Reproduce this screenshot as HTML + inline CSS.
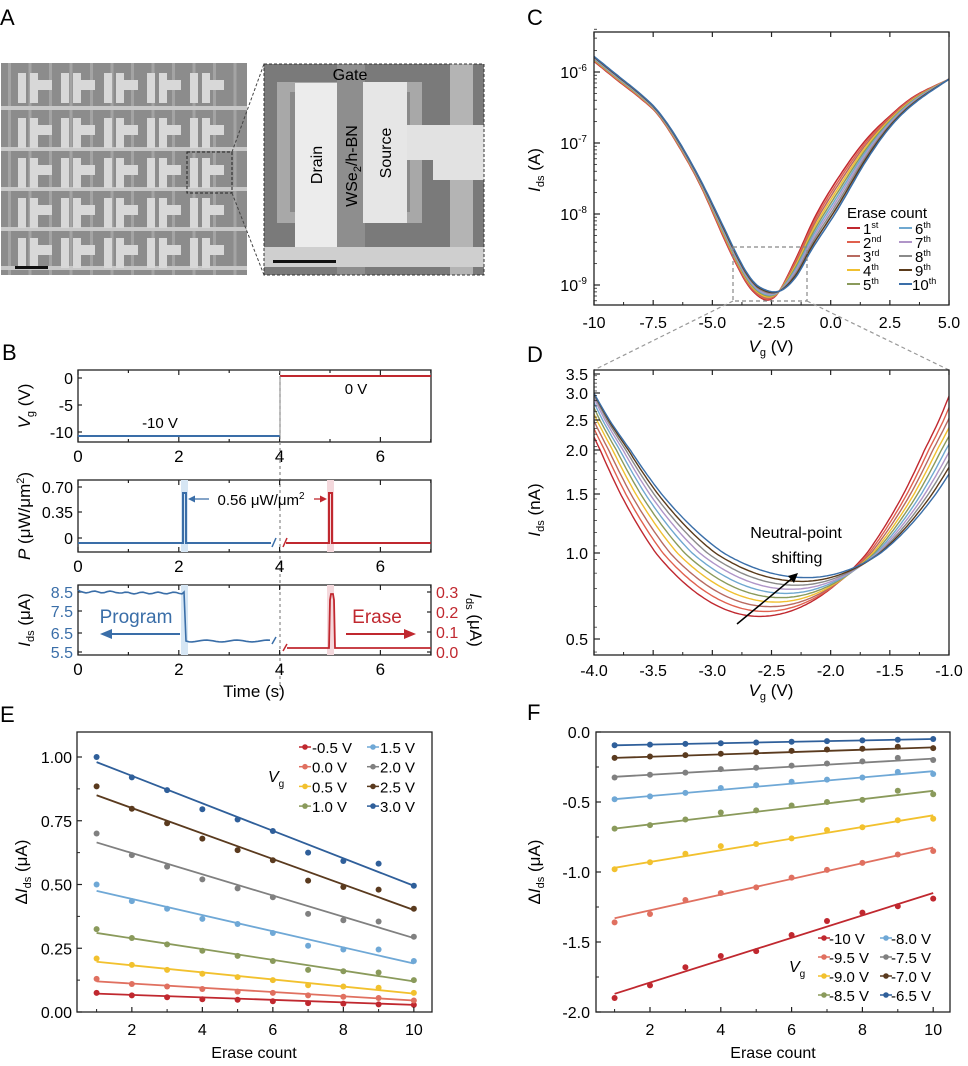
<!DOCTYPE html>
<html><head><meta charset="utf-8">
<style>
html,body{margin:0;padding:0;background:#fff;}
svg{display:block;font-family:"Liberation Sans",Arial,sans-serif;}
</style></head>
<body>
<svg id="s" width="968" height="1066" viewBox="0 0 968 1066" xmlns="http://www.w3.org/2000/svg">
<defs>
<clipPath id="cc"><rect x="594" y="32" width="355" height="273"/></clipPath>
<clipPath id="cd"><rect x="594" y="370" width="355" height="285"/></clipPath>
</defs>
<g id="g"></g>
</svg>
<script>
var G=document.getElementById('g'),out='';
function A(s){out+=s;}
function T(x,y,t,o){o=o||{};A('<text x="'+x+'" y="'+y+'" font-size="'+(o.fs||15)+'" fill="'+(o.c||'#000')+'" text-anchor="'+(o.a||'start')+'"'+(o.tr?' transform="'+o.tr+'"':'')+(o.st?' font-style="italic"':'')+'>'+t+'</text>');}
function L(x1,y1,x2,y2,c,w,d){A('<line x1="'+x1+'" y1="'+y1+'" x2="'+x2+'" y2="'+y2+'" stroke="'+(c||'#000')+'" stroke-width="'+(w||1)+'"'+(d?' stroke-dasharray="'+d+'"':'')+'/>');}
function R(x,y,w,h,f,extra){A('<rect x="'+x+'" y="'+y+'" width="'+w+'" height="'+h+'" fill="'+f+'" '+(extra||'')+'/>');}
function P(pts,c,w,extra){var d='M'+pts.map(function(p){return p[0].toFixed(1)+','+p[1].toFixed(1)}).join('L');A('<path d="'+d+'" fill="none" stroke="'+c+'" stroke-width="'+(w||1.5)+'" '+(extra||'')+'/>');}
function frame(x,y,w,h){R(x,y,w,h,'none','stroke="#222" stroke-width="1.3"');}
T(0,25,'A',{fs:22});T(2,360,'B',{fs:22});T(527,25,'C',{fs:22});T(527,362,'D',{fs:22});T(0,722,'E',{fs:22});T(527,720,'F',{fs:22});

// ===== Panel A =====
R(1,63,246,212,'#8c8c8c');
for(var i=0;i<12;i++){R(8+i*20.5,63,3,212,'#a4a4a4');}
var rowsY=[108,149,189,229,268];
rowsY.forEach(function(y){R(1,y-2,246,4,'#c8c8c8');});
var rt=[66,111,151,191,231];
rt.forEach(function(y){
 for(var c=0;c<5;c++){var x=18+c*43;
  R(x,y+7,8,30,'#d8d8d8');R(x+12,y+7,8,30,'#d8d8d8');R(x+20,y+14,14,10,'#d8d8d8');}
});
R(15,266,33,3,'#111');
R(187,152,45,41,'none','stroke="#222" stroke-dasharray="3,2" stroke-width="1"');
L(232,152,264,64,'#444',1,'3,2');L(232,193,264,275,'#444',1,'3,2');
R(264,64,220,211,'#7a7a7a');
R(277,82,145,141,'#a8a8a8');
R(290,92,120,120,'#8a8a8a');
R(337,64,28,211,'#8e8e8e');
R(450,64,23,211,'#b4b4b4');
R(295,83,42,164,'#ececec');
R(363,82,44,141,'#e6e6e6');
R(407,125,77,35,'#e2e2e2');R(433,125,51,55,'#e2e2e2');
R(264,247,220,20,'#cfcfcf');
R(264,64,220,211,'none','stroke="#333" stroke-dasharray="3,2" stroke-width="1"');
R(273,260,63,3,'#111');
T(350,80,'Gate',{fs:16,a:'middle'});
T(0,0,'Drain',{fs:16,a:'middle',tr:'translate(322,165) rotate(-90)'});
T(0,0,'WSe<tspan font-size="11" dy="4">2</tspan><tspan dy="-4">/h-BN</tspan>',{fs:16,a:'middle',tr:'translate(357,166) rotate(-90)'});
T(0,0,'Source',{fs:16,a:'middle',tr:'translate(391,153) rotate(-90)'});

// ===== Panel B =====
var bx=function(t){return 78+t*50.4;};
function bAxes(y0,y1){frame(78,y0,353,y1-y0);
 for(var t=0;t<=7;t++){var x=bx(t),len=(t%2==0)?5:3;L(x,y1,x,y1-len,'#222',1.2);L(x,y0,x,y0+len,'#222',1.2);}
 [0,2,4,6].forEach(function(t){T(bx(t),y1+20,t,{fs:17,a:'middle'});});
}
bAxes(370,442);
L(280,370,280,690,'#888',1.2,'3,3');
[[0,378],[-5,405],[-10,432]].forEach(function(p){T(73,p[1]+6,p[0],{fs:16,a:'end'});L(78,p[1],82,p[1],'#222',1.2);});
L(78,436,280,436,'#3a6ea8',2);L(280,376,431,376,'#c0282f',2);L(280,376,280,436,'#888',1);
T(160,428,'-10 V',{fs:15,a:'middle'});T(356,394,'0 V',{fs:15,a:'middle'});
T(0,0,'<tspan font-style="italic">V</tspan><tspan font-size="11" dy="4">g</tspan><tspan dy="-4"> (V)</tspan>',{fs:17,a:'middle',tr:'translate(30,406) rotate(-90)'});
bAxes(480,552);
[['0.70',487],['0.35',512],['0',538]].forEach(function(p){T(73,p[1]+6,p[0],{fs:16,a:'end'});L(78,p[1],82,p[1],'#222',1.2);});
R(181,480,7,72,'#d6e6f4');R(327,480,7,72,'#f4d8dc');
P([[78,543],[183,543],[183,493],[186,493],[186,543],[271,543]],'#3a6ea8',2);
L(272,547,276,538,'#3a6ea8',1.5);L(283,547,287,538,'#c0282f',1.5);
P([[286,543],[329,543],[329,493],[332,493],[332,543],[431,543]],'#c0282f',2);
L(209,499,190,499,'#3a6ea8',1.3);A('<path d="M188,499 L195,495.5 L195,502.5z" fill="#3a6ea8"/>');
L(314,499,325,499,'#c0282f',1.3);A('<path d="M327,499 L320,495.5 L320,502.5z" fill="#c0282f"/>');
T(261,505,'0.56 μW/μm<tspan font-size="10" dy="-6">2</tspan>',{fs:15,a:'middle'});
T(0,0,'<tspan font-style="italic">P</tspan> (μW/μm<tspan font-size="11" dy="-6">2</tspan><tspan dy="6">)</tspan>',{fs:17,a:'middle',tr:'translate(30,516) rotate(-90)'});
bAxes(585,655);
[['8.5',592],['7.5',611],['6.5',633],['5.5',652]].forEach(function(p){T(73,p[1]+6,p[0],{fs:16,a:'end',c:'#3a6ea8'});L(78,p[1],82,p[1],'#222',1.2);});
[['0.3',592],['0.2',612],['0.1',632],['0.0',652]].forEach(function(p){T(436,p[1]+6,p[0],{fs:16,c:'#c0282f'});L(431,p[1],427,p[1],'#222',1.2);});
R(181,585,7,70,'#d6e6f4');R(327,585,7,70,'#f4d8dc');
var pb=[[78,590]];for(var x=80;x<184;x+=3){pb.push([x,592+Math.sin(x*1.7)*0.9+(x>120?1:0)]);}
pb.push([184,592]);pb.push([186,641]);for(x=189;x<272;x+=3){pb.push([x,641+Math.sin(x*2.3)*0.9]);}
P(pb,'#3a6ea8',1.6);L(272,644,276,637,'#3a6ea8',1.5);L(283,651,287,644,'#c0282f',1.5);
P([[287,648],[329,648],[330,600],[331,594],[333,594],[334,600],[335,648],[431,648]],'#c0282f',1.8);
T(136,623,'Program',{fs:19,a:'middle',c:'#3a6ea8'});
L(180,634,108,634,'#3a6ea8',2);A('<path d="M100,634 L112,629 L112,639z" fill="#3a6ea8"/>');
T(377,623,'Erase',{fs:19,a:'middle',c:'#c0282f'});
L(346,634,405,634,'#c0282f',2);A('<path d="M416,634 L404,629 L404,639z" fill="#c0282f"/>');
T(0,0,'<tspan font-style="italic">I</tspan><tspan font-size="11" dy="4">ds</tspan><tspan dy="-4"> (μA)</tspan>',{fs:17,a:'middle',tr:'translate(30,620) rotate(-90)'});
T(0,0,'<tspan font-style="italic">I</tspan><tspan font-size="11" dy="4">ds</tspan><tspan dy="-4"> (μA)</tspan>',{fs:17,a:'middle',tr:'translate(470,620) rotate(90)'});
T(254,697,'Time (s)',{fs:17,a:'middle'});

// ===== Panel C =====
var cols=['#c0282f','#e0604e','#b86a60','#f0c030','#8a9a5b','#6fa8d0','#b095c8','#8a8a8a','#5a3a1a','#3a6ea8'];
function herm(pts,x){var n=pts.length;if(x<=pts[0][0])return pts[0][1];if(x>=pts[n-1][0])return pts[n-1][1];
 var k=0;while(pts[k+1][0]<x)k++;function sl(j){var a=Math.max(0,j-1),b=Math.min(n-1,j+1);return (pts[b][1]-pts[a][1])/(pts[b][0]-pts[a][0]);}
 var x0=pts[k][0],x1=pts[k+1][0],h=x1-x0,t=(x-x0)/h,y0=pts[k][1],y1=pts[k+1][1],m0=sl(k)*h,m1=sl(k+1)*h;
 var t2=t*t,t3=t2*t;return (2*t3-3*t2+1)*y0+(t3-2*t2+t)*m0+(-2*t3+3*t2)*y1+(t3-t2)*m1;}
var redC=[[-10,-5.85],[-9,-6.12],[-8,-6.38],[-7.3,-6.6],[-6.5,-7.0],[-5.5,-7.6],[-4.5,-8.35],[-4,-8.7],[-3.5,-9.0],[-3,-9.17],[-2.6,-9.21],[-2.2,-9.1],[-1.5,-8.65],[-0.6,-8.0],[0.5,-7.4],[1.5,-6.95],[2.5,-6.62],[3.5,-6.35],[5,-6.1]];
var bluC=[[-10,-5.78],[-9,-6.05],[-8,-6.32],[-7.3,-6.55],[-6.5,-6.93],[-5.5,-7.52],[-4.5,-8.2],[-4,-8.55],[-3.5,-8.85],[-3,-9.03],[-2.2,-9.09],[-1.5,-8.9],[-0.8,-8.5],[0.27,-7.95],[1.5,-7.25],[2.5,-6.78],[3.5,-6.45],[5,-6.1]];
var cx=function(v){return 594+(v+10)*23.67;},cy=function(l){return 72+(-6-l)*71;};
A('<g clip-path="url(#cc)">');
for(var i=0;i<10;i++){var t=i/9,pts=[];for(var v=-10;v<=5.001;v+=0.1){var l=(1-t)*herm(redC,v)+t*herm(bluC,v);pts.push([cx(v),cy(l)]);}P(pts,cols[i],1.5);}
A('</g>');
frame(594,32,355,273);
[-10,-7.5,-5,-2.5,0,2.5,5].forEach(function(v,j){var x=cx(v);L(x,305,x,300,'#222',1.2);L(x,32,x,37,'#222',1.2);T(x,328,v==-10?'-10':v.toFixed(1),{fs:16,a:'middle'});});
[-8.75,-6.25,-3.75,-1.25,1.25,3.75].forEach(function(v){L(cx(v),305,cx(v),302,'#222',1);});
for(var e=-6;e>=-9;e--){var y=cy(e);L(594,y,600,y,'#222',1.2);T(587,y+6,'10<tspan font-size="10" dy="-7">'+e+'</tspan>',{fs:16,a:'end'});
 for(var m=2;m<10;m++){var yy=cy(e-1+Math.log10(m));if(yy<305)L(594,yy,597,yy,'#222',0.8);}}
for(var m=2;m<5;m++){L(594,cy(-6+Math.log10(m)),597,cy(-6+Math.log10(m)),'#222',0.8);}
T(0,0,'<tspan font-style="italic">I</tspan><tspan font-size="11" dy="4">ds</tspan><tspan dy="-4"> (A)</tspan>',{fs:17,a:'middle',tr:'translate(540,170) rotate(-90)'});
T(771,352,'<tspan font-style="italic">V</tspan><tspan font-size="11" dy="4">g</tspan><tspan dy="-4"> (V)</tspan>',{fs:17,a:'middle'});
T(847,218,'Erase count',{fs:15});
var sup=['st','nd','rd','th','th','th','th','th','th','th'];
for(i=0;i<10;i++){var col=i<5?0:1,r=i%5,x=col?899:847,y=228+r*14;L(x,y,x+13,y,cols[i],2);T(x+(i==9?13:16),y+6,(i+1)+'<tspan font-size="9" dy="-6">'+sup[i]+'</tspan>',{fs:15});}
R(733,247,74,54,'none','stroke="#888" stroke-dasharray="4,3" stroke-width="1.2"');
L(733,301,594,370,'#999',1.2,'4,3');L(807,301,949,370,'#999',1.2,'4,3');

// ===== Panel D =====
var dt=[[0.5,639],[1.0,553],[1.5,494],[2.0,450],[2.5,420],[3.0,393],[3.5,374]];
function dy(v){var lv=Math.log10(v);if(v<=0.5)return 639+(Math.log10(0.5)-lv)*285;if(v>=3.5)return 374-(lv-Math.log10(3.5))*285;
 for(var k=0;k<dt.length-1;k++){if(v<=dt[k+1][0]){var a=Math.log10(dt[k][0]),b=Math.log10(dt[k+1][0]);return dt[k][1]+(lv-a)/(b-a)*(dt[k+1][1]-dt[k][1]);}}}
var dx=function(v){return 594+(v+4)*118.33;};
A('<g clip-path="url(#cd)">');
for(i=0;i<10;i++){var t=i/9,Im=0.6+t*0.22,V0=-2.6+t*0.4,cL=0.663-t*0.263,cR=0.62-t*0.11,pts=[];
 for(var v=-4.05;v<=-0.95;v+=0.02){var d=v-V0,c=d<0?cL:cR;pts.push([dx(v),dy(Im*Math.exp(c*d*d))]);}P(pts,cols[i],1.4);}
A('</g>');
frame(594,370,355,285);
[-4,-3.5,-3,-2.5,-2,-1.5,-1].forEach(function(v){var x=dx(v);L(x,655,x,650,'#222',1.2);L(x,370,x,375,'#222',1.2);T(x,676,v.toFixed(1),{fs:16,a:'middle'});});
[-3.75,-3.25,-2.75,-2.25,-1.75,-1.25].forEach(function(v){L(dx(v),655,dx(v),652,'#222',1);});
dt.forEach(function(p){L(594,p[1],600,p[1],'#222',1.2);T(588,p[1]+6,p[0].toFixed(1),{fs:16,a:'end'});});
for(var v=0.45;v<3.5;v+=0.1){L(594,dy(v),597,dy(v),'#222',0.7);}
T(0,0,'<tspan font-style="italic">I</tspan><tspan font-size="11" dy="4">ds</tspan><tspan dy="-4"> (nA)</tspan>',{fs:17,a:'middle',tr:'translate(540,510) rotate(-90)'});
T(771,696,'<tspan font-style="italic">V</tspan><tspan font-size="11" dy="4">g</tspan><tspan dy="-4"> (V)</tspan>',{fs:17,a:'middle'});
L(737,624,795,576,'#000',1.5);A('<path d="M798,573 L788,576 L794,583z" fill="#000"/>');
T(796,538,'Neutral-point',{fs:16,a:'middle'});T(797,563,'shifting',{fs:16,a:'middle'});

// ===== Panel E =====
var ex=function(n){return 96.6+(n-1)*35.25;},ey=function(v){return 1012-v*255;};
var eS=[
['-0.5 V','#c0282f',.072,.028,[.075,.065,.058,.05,.048,.042,.035,.033,.03,.028]],
['0.0 V','#e07060',.12,.045,[.13,.11,.1,.09,.08,.075,.065,.06,.055,.045]],
['0.5 V','#f2c12e',.197,.072,[.21,.185,.165,.15,.137,.125,.105,.1,.095,.075]],
['1.0 V','#8a9a5b',.31,.12,[.325,.29,.265,.24,.22,.20,.165,.16,.155,.125]],
['1.5 V','#6fa8d6',.475,.19,[.50,.435,.405,.365,.345,.31,.26,.245,.245,.20]],
['2.0 V','#808080',.665,.29,[.70,.615,.57,.52,.485,.45,.385,.36,.355,.295]],
['2.5 V','#5a3a1e',.85,.40,[.885,.797,.74,.68,.635,.595,.515,.49,.48,.405]],
['3.0 V','#2f5f9a',.98,.495,[1.0,.92,.87,.795,.755,.71,.625,.592,.582,.495]]];
eS.forEach(function(s){L(ex(1),ey(s[2]),ex(10),ey(s[3]),s[1],1.8);s[4].forEach(function(v,k){A('<circle cx="'+ex(k+1)+'" cy="'+ey(v)+'" r="3" fill="'+s[1]+'"/>');});});
frame(77,732,355,280);
[2,4,6,8,10].forEach(function(n){L(ex(n),1012,ex(n),1007,'#222',1.2);T(ex(n),1035,n,{fs:16,a:'middle'});});
[1,3,5,7,9].forEach(function(n){L(ex(n),1012,ex(n),1009,'#222',1);});
[0,.25,.5,.75,1].forEach(function(v){L(77,ey(v),82,ey(v),'#222',1.2);T(72,ey(v)+6,v.toFixed(2),{fs:16,a:'end'});});
[.125,.375,.625,.875].forEach(function(v){L(77,ey(v),80,ey(v),'#222',1);});
T(0,0,'Δ<tspan font-style="italic">I</tspan><tspan font-size="11" dy="4">ds</tspan><tspan dy="-4"> (μA)</tspan>',{fs:17,a:'middle',tr:'translate(27,872) rotate(-90)'});
T(254,1058,'Erase count',{fs:16,a:'middle'});
eS.forEach(function(s,k){var col=k<4?0:1,r=k%4,x=col?373:305,y=747+r*19.7;L(x-6,y,x+6,y,s[1],1.5);A('<circle cx="'+x+'" cy="'+y+'" r="2.8" fill="'+s[1]+'"/>');T(x+7,y+6,s[0],{fs:15});});
T(268,782,'<tspan font-style="italic">V</tspan><tspan font-size="10" dy="5">g</tspan>',{fs:16});

// ===== Panel F =====
var fx=function(n){return 614.6+(n-1)*35.4;},fy=function(v){return 732-v*140;};
var fS=[
['-10 V','#c0282f',-1.87,-1.15,[-1.9,-1.81,-1.68,-1.6,-1.565,-1.45,-1.35,-1.29,-1.245,-1.19]],
['-9.5 V','#e07060',-1.33,-0.825,[-1.36,-1.3,-1.2,-1.15,-1.11,-1.04,-0.985,-0.935,-0.875,-0.85]],
['-9.0 V','#f2c12e',-0.97,-0.595,[-0.98,-0.93,-0.87,-0.815,-0.8,-0.76,-0.7,-0.68,-0.63,-0.62]],
['-8.5 V','#8a9a5b',-0.69,-0.42,[-0.69,-0.665,-0.625,-0.575,-0.56,-0.525,-0.5,-0.485,-0.42,-0.445]],
['-8.0 V','#6fa8d6',-0.48,-0.28,[-0.48,-0.46,-0.435,-0.4,-0.38,-0.355,-0.34,-0.325,-0.285,-0.3]],
['-7.5 V','#808080',-0.32,-0.19,[-0.325,-0.305,-0.29,-0.265,-0.255,-0.24,-0.225,-0.21,-0.185,-0.2]],
['-7.0 V','#5a3a1e',-0.185,-0.11,[-0.185,-0.175,-0.165,-0.155,-0.145,-0.135,-0.125,-0.12,-0.105,-0.115]],
['-6.5 V','#2f5f9a',-0.095,-0.05,[-0.095,-0.09,-0.085,-0.08,-0.075,-0.07,-0.065,-0.06,-0.055,-0.05]]];
fS.forEach(function(s){L(fx(1),fy(s[2]),fx(10),fy(s[3]),s[1],1.8);s[4].forEach(function(v,k){A('<circle cx="'+fx(k+1)+'" cy="'+fy(v)+'" r="3" fill="'+s[1]+'"/>');});});
frame(596,732,354,280);
[2,4,6,8,10].forEach(function(n){L(fx(n),1012,fx(n),1007,'#222',1.2);T(fx(n),1035,n,{fs:16,a:'middle'});});
[1,3,5,7,9].forEach(function(n){L(fx(n),1012,fx(n),1009,'#222',1);});
[0,-0.5,-1,-1.5,-2].forEach(function(v){L(596,fy(v),601,fy(v),'#222',1.2);T(590,fy(v)+6,v.toFixed(1),{fs:16,a:'end'});});
[-0.25,-0.75,-1.25,-1.75].forEach(function(v){L(596,fy(v),599,fy(v),'#222',1);});
T(0,0,'Δ<tspan font-style="italic">I</tspan><tspan font-size="11" dy="4">ds</tspan><tspan dy="-4"> (μA)</tspan>',{fs:17,a:'middle',tr:'translate(540,872) rotate(-90)'});
T(773,1058,'Erase count',{fs:16,a:'middle'});
fS.forEach(function(s,k){var col=k<4?0:1,r=k%4,x=col?886:824,y=938+r*19;L(x-6,y,x+6,y,s[1],1.5);A('<circle cx="'+x+'" cy="'+y+'" r="2.8" fill="'+s[1]+'"/>');T(x+5,y+6,s[0],{fs:15});});
T(789,972,'<tspan font-style="italic">V</tspan><tspan font-size="10" dy="5">g</tspan>',{fs:16});

G.innerHTML=out;
</script>
</body></html>
